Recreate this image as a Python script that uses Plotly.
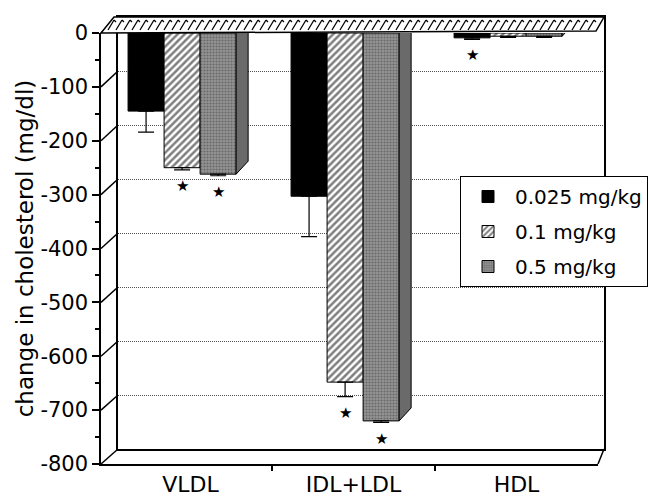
import plotly.graph_objects as go

# ---------------- data ----------------
categories = ["VLDL", "IDL+LDL", "HDL"]
doses = ["0.025 mg/kg", "0.1 mg/kg", "0.5 mg/kg"]
change_0025 = [-145, -303, -9]
change_01 = [-250, -648, -6]
change_05 = [-262, -720, -6]
sem_0025 = [39, 75, 3]
sem_01 = [4, 27, 2]
sem_05 = [3, 3, 2]
signif_0025 = [False, False, True]
signif_01 = [True, True, False]
signif_05 = [True, True, False]
y_ticks = [0, -100, -200, -300, -400, -500, -600, -700, -800]
y_tick_labels = [str(v) for v in y_ticks]

series_values = [change_0025, change_01, change_05]
series_sem = [sem_0025, sem_01, sem_05]
series_sig = [signif_0025, signif_01, signif_05]

# ---------------- geometry / style ----------------
W, H = 650, 504
LEFT, RIGHT_BACK, TOP_BACK, BOTTOM_FRONT = 101, 604, 17, 464
FRONT_RIGHT, FRONT_TOP = 598, 33
BACK_LEFT, BACK_BOTTOM = 118, 449
PW, PH = RIGHT_BACK - LEFT, BOTTOM_FRONT - TOP_BACK


def px(x):
    return (x - LEFT) / PW


def py(y):
    return (BOTTOM_FRONT - y) / PH


FONT = "DejaVu Sans"
x_range = [-0.549, 2.5]
bar_w = 0.221
group_left = -0.383
YMIN, YMAX = -800, 0

styles = [
    dict(color="black", pattern=None),
    dict(color="white", pattern=dict(shape="/", size=5, solidity=0.5,
                                     fgcolor="black", bgcolor="white")),
    dict(color="#808080", pattern=dict(shape=".", size=3, solidity=0.4,
                                       fgcolor="#3a3a3a", bgcolor="#959595")),
]

fig = go.Figure()

# empty trace so the back-wall subplot (x, y) is created and drawn first
fig.add_trace(go.Scatter(x=[], y=[], xaxis="x", yaxis="y", showlegend=False,
                         hoverinfo="skip"))

xs = list(range(len(categories)))
for i, (name, vals, sem, st) in enumerate(zip(doses, series_values, series_sem, styles)):
    marker = dict(color=st["color"], line=dict(color="black", width=1))
    if st["pattern"]:
        marker["pattern"] = st["pattern"]
    fig.add_trace(go.Bar(
        x=xs, y=vals, name=name, legendgroup=name,
        width=bar_w, offset=group_left + i * bar_w,
        marker=marker, xaxis="x2", yaxis="y2",
        error_y=dict(type="data", symmetric=False, array=[0] * len(vals),
                     arrayminus=sem, color="black", thickness=1.2, width=8),
    ))

# significance stars
annotations = []
for i, (vals, sem, sig) in enumerate(zip(series_values, series_sem, series_sig)):
    for j, (v, e, s) in enumerate(zip(vals, sem, sig)):
        if s:
            annotations.append(dict(
                x=j + group_left + (i + 0.5) * bar_w, y=v - e, xref="x2", yref="y2",
                text="★", showarrow=False, yanchor="top", yshift=-5,
                font=dict(size=15, color="black", family="DejaVu Sans")))

shapes = []
# 3D side faces of the last (front-right) bar in each group
dx = 12 / (497 / (x_range[1] - x_range[0]))
dy = 13 * (YMAX - YMIN) / 431
for j, v in enumerate(change_05):
    xr = j + group_left + 3 * bar_w
    shapes.append(dict(
        type="path", xref="x2", yref="y2",
        path=f"M{xr},0 L{xr+dx},{dy} L{xr+dx},{v+dy} L{xr},{v} Z",
        fillcolor="#6a6a6a", line=dict(color="black", width=1), layer="above"))

# diagonal depth ticks from front axis to back wall
for v in y_ticks:
    yf = FRONT_TOP + (-v) / 800 * (BOTTOM_FRONT - FRONT_TOP)
    yb = TOP_BACK + (-v) / 800 * (BACK_BOTTOM - TOP_BACK)
    shapes.append(dict(type="line", xref="paper", yref="paper",
                       x0=px(LEFT), y0=py(yf), x1=px(BACK_LEFT), y1=py(yb),
                       line=dict(color="black", width=1.5)))
# bottom right depth edge
shapes.append(dict(type="line", xref="paper", yref="paper",
                   x0=px(FRONT_RIGHT), y0=py(BOTTOM_FRONT), x1=px(RIGHT_BACK), y1=py(BACK_BOTTOM),
                   line=dict(color="black", width=1.5)))

# top "floor" band at zero (3D)
band = (f"M{px(LEFT)},{py(FRONT_TOP)} L{px(BACK_LEFT - 4)},{py(TOP_BACK)} "
        f"L{px(RIGHT_BACK)},{py(TOP_BACK)} L{px(FRONT_RIGHT - 2)},{py(FRONT_TOP - 2)} Z")
shapes.append(dict(type="path", xref="paper", yref="paper", path=band,
                   fillcolor="white", line=dict(color="black", width=1.5), layer="above"))
for xb in range(108, 596, 8):
    shapes.append(dict(type="line", xref="paper", yref="paper",
                       x0=px(xb), y0=py(30), x1=px(xb + 6), y1=py(20),
                       line=dict(color="black", width=1.3)))
    shapes.append(dict(type="line", xref="paper", yref="paper",
                       x0=px(xb + 6), y0=py(20), x1=px(xb + 8), y1=py(22),
                       line=dict(color="black", width=1.3)))

fig.update_layout(
    width=W, height=H,
    margin=dict(l=LEFT, r=W - RIGHT_BACK, t=TOP_BACK, b=H - BOTTOM_FRONT, autoexpand=False),
    paper_bgcolor="white", plot_bgcolor="rgba(0,0,0,0)",
    font=dict(family=FONT, size=21, color="black"),
    barmode="overlay",
    showlegend=True,
    legend=dict(x=px(460), y=py(176), xanchor="left", yanchor="top",
                bgcolor="white", bordercolor="black", borderwidth=1,
                font=dict(size=20, family=FONT), itemwidth=44, tracegroupgap=6,
                entrywidth=210, entrywidthmode="pixels",
                itemclick=False),
    # back wall
    xaxis=dict(domain=[px(BACK_LEFT), 1], range=[0, 1], showticklabels=False,
               ticks="", showgrid=False, zeroline=False, showline=True, mirror=True,
               linecolor="black", linewidth=1.5, anchor="y"),
    yaxis=dict(domain=[py(BACK_BOTTOM), 1], range=[YMIN, YMAX], showticklabels=False,
               ticks="", tickvals=y_ticks, showgrid=True, gridcolor="#505050",
               griddash="1px,1px", gridwidth=1, zeroline=False, showline=True, mirror=True,
               linecolor="black", linewidth=1.5, anchor="x"),
    # front axes with bars
    xaxis2=dict(domain=[0, px(FRONT_RIGHT)], range=x_range, tickvals=xs, ticktext=categories,
                ticks="", showgrid=False, zeroline=False, showline=True,
                linecolor="black", linewidth=1.5, anchor="y2",
                minor=dict(tickvals=[0.5, 1.5], ticks="outside", ticklen=5,
                           tickcolor="black", tickwidth=1.5),
                tickfont=dict(size=22)),
    yaxis2=dict(domain=[0, py(FRONT_TOP)], range=[YMIN, YMAX], tickvals=y_ticks,
                ticktext=y_tick_labels,
                ticks="outside", ticklen=7, tickcolor="black", tickwidth=1.5,
                showgrid=False, zeroline=False, showline=True, linecolor="black",
                linewidth=1.5, anchor="x2",
                minor=dict(dtick=50, ticks="outside", ticklen=4, tickcolor="black"),
                tickfont=dict(size=21),
                title=dict(text="change in cholesterol (mg/dl)", standoff=0,
                           font=dict(size=23))),
    shapes=shapes,
    annotations=annotations,
)

fig.write_html("out.html", config={"displayModeBar": False},
               post_script="document.body.style.margin='0';")
